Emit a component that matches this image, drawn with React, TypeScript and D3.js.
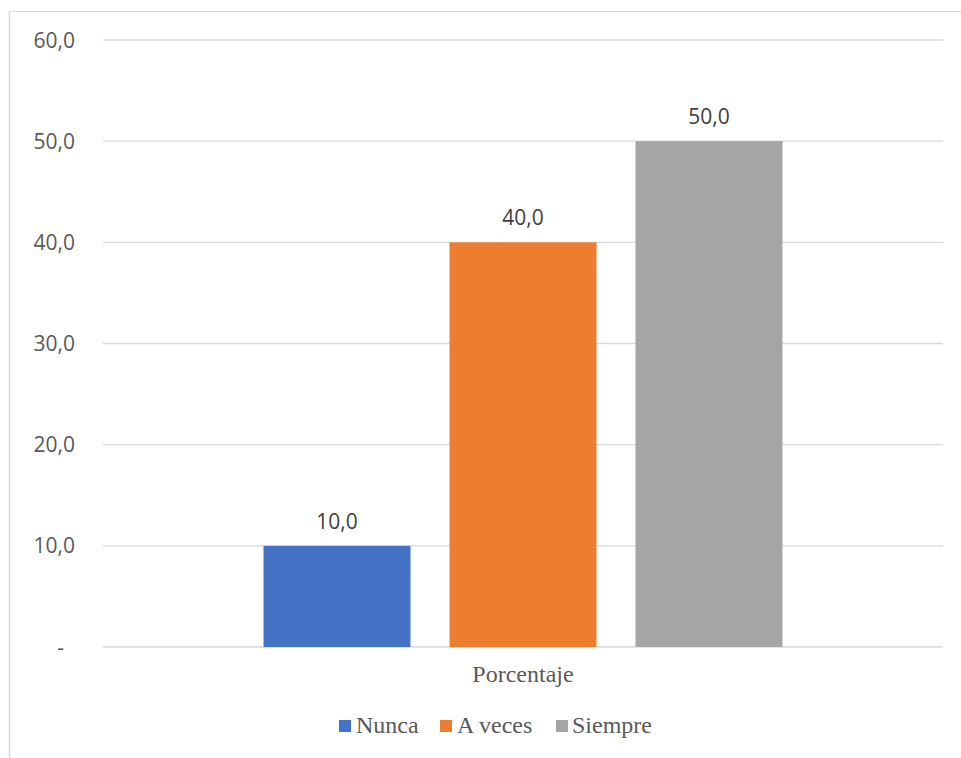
import React from "react";
import * as d3 from "d3";

const categories = ["Porcentaje"];
const seriesNames = ["Nunca", "A veces", "Siempre"];
const seriesValues = [10.0, 40.0, 50.0];
const seriesColors = ["#4472C4", "#ED7D31", "#A5A5A5"];
const yTicks = [0, 10, 20, 30, 40, 50, 60];

const W = 961;
const H = 758;

export default function App() {
  const plotLeft = 103;
  const plotRight = 943;
  const y = d3.scaleLinear().domain([0, 60]).range([647, 40]);
  const x0 = d3.scaleBand().domain(categories).range([plotLeft, plotRight]);
  const groupW = 147 * 3 + 39 * 2;
  const groupStart = (x0(categories[0]) as number) + (x0.bandwidth() - groupW) / 2;
  const x1 = d3
    .scaleBand()
    .domain(seriesNames)
    .range([groupStart, groupStart + groupW])
    .paddingInner(39 / 186)
    .paddingOuter(0);
  const fmt = (v: number) => (v === 0 ? "-" : v.toFixed(1).replace(".", ","));
  const sans = "'Open Sans', 'DejaVu Sans', sans-serif";
  const serif = "'Liberation Serif', 'Times New Roman', serif";

  const legendItems = [
    { name: seriesNames[0], sx: 339, tx: 356 },
    { name: seriesNames[1], sx: 440, tx: 457 },
    { name: seriesNames[2], sx: 556, tx: 572 },
  ];

  return (
    <svg
      width={W}
      height={H}
      style={{ position: "absolute", left: 0, top: 0, background: "#fff" }}
    >
      <rect x={0} y={0} width={W} height={H} fill="#fff" />
      <line x1={9.5} y1={11} x2={9.5} y2={H} stroke="#d9d9d9" strokeWidth={1.5} />
      <line x1={9} y1={11.5} x2={W} y2={11.5} stroke="#d9d9d9" strokeWidth={1} />
      {yTicks.map((t) => (
        <g key={t}>
          <line
            x1={plotLeft}
            x2={plotRight}
            y1={y(t)}
            y2={y(t)}
            stroke="#d9d9d9"
            strokeWidth={1.3}
          />
          <text
            x={t === 0 ? 64 : 75}
            y={y(t) + 7.5}
            textAnchor="end"
            fontFamily={sans}
            fontSize={21}
            fill="#595959"
          >
            {fmt(t)}
          </text>
        </g>
      ))}
      {seriesNames.map((s, i) => (
        <g key={s}>
          <rect
            x={x1(s)}
            y={y(seriesValues[i])}
            width={x1.bandwidth()}
            height={y(0) - y(seriesValues[i])}
            fill={seriesColors[i]}
          />
          <text
            x={(x1(s) as number) + x1.bandwidth() / 2}
            y={y(seriesValues[i]) - 17}
            textAnchor="middle"
            fontFamily={sans}
            fontSize={21}
            fill="#404040"
          >
            {fmt(seriesValues[i])}
          </text>
        </g>
      ))}
      <text
        x={(x0(categories[0]) as number) + x0.bandwidth() / 2}
        y={682}
        textAnchor="middle"
        fontFamily={serif}
        fontSize={24}
        fill="#595959"
      >
        {categories[0]}
      </text>
      {legendItems.map((it, i) => (
        <g key={it.name}>
          <rect x={it.sx} y={720} width={12} height={12} fill={seriesColors[i]} />
          <text
            x={it.tx}
            y={733}
            fontFamily={serif}
            fontSize={24}
            fill="#595959"
          >
            {it.name}
          </text>
        </g>
      ))}
    </svg>
  );
}
